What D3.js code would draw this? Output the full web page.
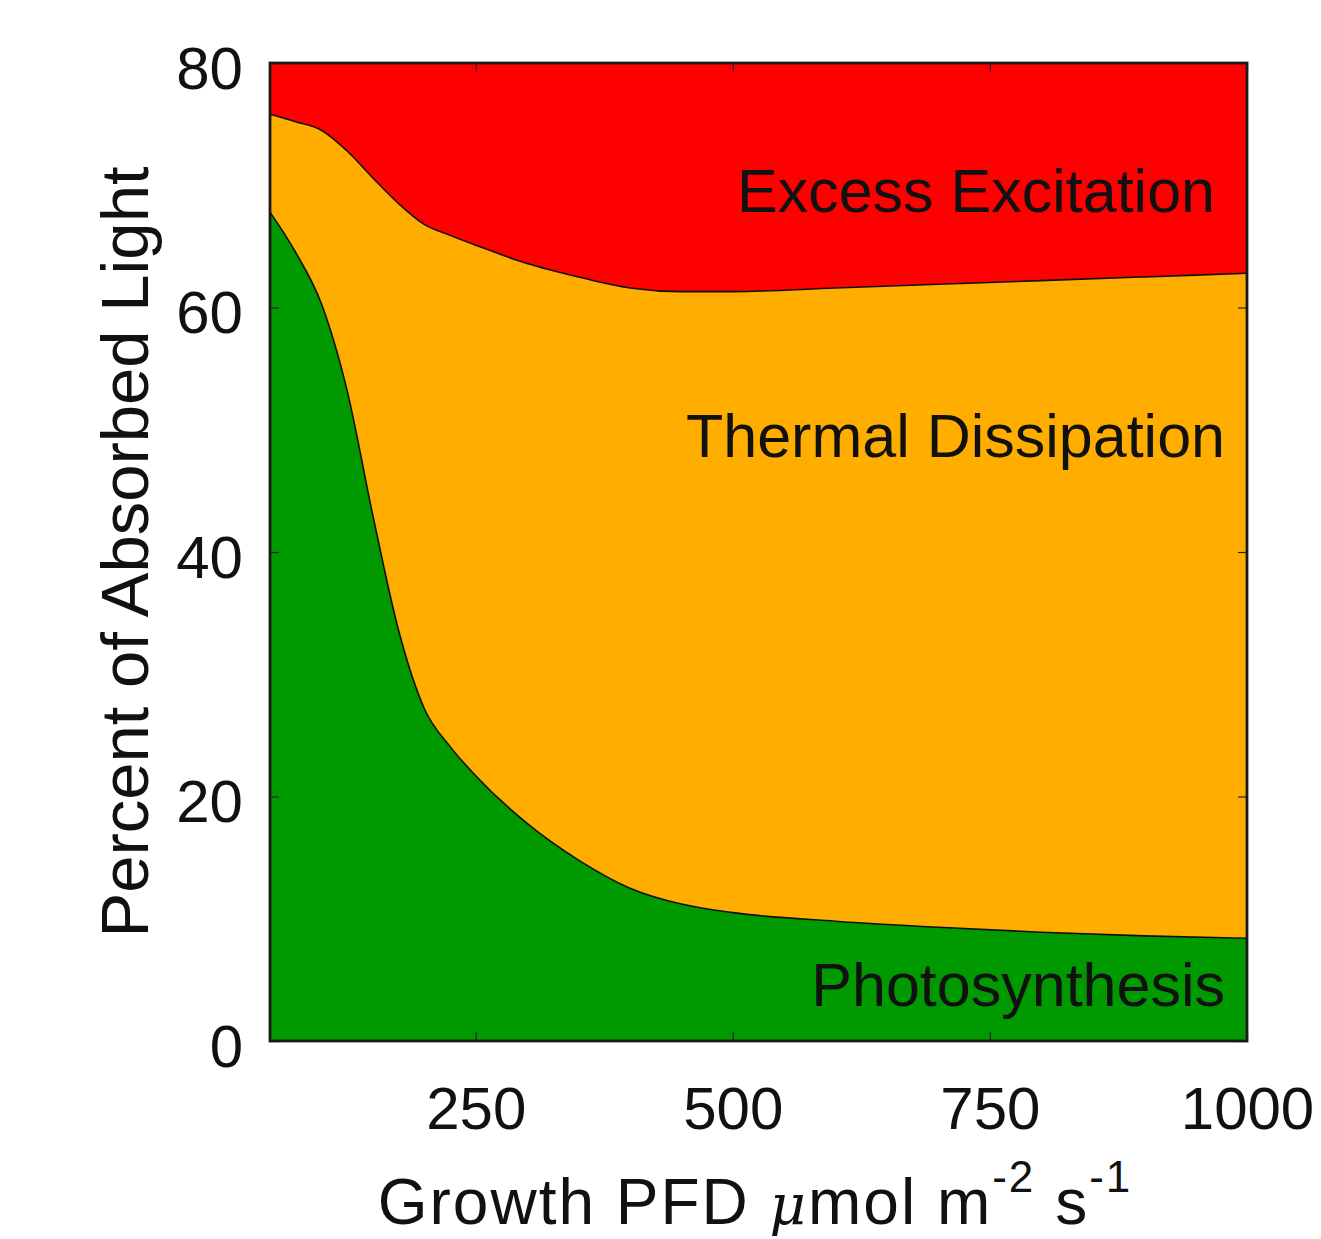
<!DOCTYPE html>
<html lang="en">
<head>
  <meta charset="UTF-8">
  <title>Absorbed light partitioning</title>
  <style>
    body { margin: 0; background: #fff; }
    text { font-family: "Liberation Sans", Arial, sans-serif; fill: #111; }
  </style>
</head>
<body>
  <div id="chart"></div>

  <script src="https://d3js.org/d3.v7.min.js"></script>

  <script>
    // Growth PFD (umol m-2 s-1)
    var pfd = [50, 75, 100, 125, 150, 175, 200, 225, 250, 300, 350, 400, 450, 500, 600, 700, 800, 900, 1000];
    // share of absorbed light in each fate (percent), stacked bottom to top
    var photosynthesis = [67.8, 64.5, 60.3, 53.2, 43.0, 33.6, 27.2, 24.1, 21.7, 17.8, 14.8, 12.5, 11.2, 10.5, 9.8, 9.3, 8.9, 8.6, 8.4];
    var thermal = [8.0, 10.7, 14.2, 19.6, 27.6, 34.9, 39.6, 41.8, 43.4, 45.8, 47.7, 49.1, 50.1, 50.8, 51.8, 52.6, 53.3, 53.9, 54.4];
    var excess = [4.2, 4.8, 5.5, 7.2, 9.4, 11.5, 13.2, 14.1, 14.9, 16.4, 17.5, 18.4, 18.7, 18.7, 18.4, 18.1, 17.8, 17.5, 17.2];

    var keys = ["photosynthesis", "thermal", "excess"];
    var labels = ["Photosynthesis", "Thermal Dissipation", "Excess Excitation"];
    var colors = ["#009a00", "#ffae00", "#ff0000"];

    var xTicks = [250, 500, 750, 1000];
    var yTicks = [0, 20, 40, 60, 80];

    // set the dimensions and margins of the graph
    var margin = {top: 63, right: 74, bottom: 198, left: 270},
      width = 1321 - margin.left - margin.right,
      height = 1239 - margin.top - margin.bottom;

    var svg = d3.select("#chart")
      .append("svg")
      .attr("width", 1321)
      .attr("height", 1239);

    var g = svg.append("g")
      .attr("transform", "translate(" + margin.left + "," + margin.top + ")");

    var x = d3.scaleLinear().domain([50, 1000]).range([0, width]);
    var y = d3.scaleLinear().domain([0, 80]).range([height, 0]);

    // rows for the stack
    var rows = pfd.map(function(p, i) {
      return {pfd: p, photosynthesis: photosynthesis[i], thermal: thermal[i], excess: excess[i]};
    });
    var series = d3.stack().keys(keys)(rows);

    var area = d3.area()
      .curve(d3.curveMonotoneX)
      .x(function(d) { return x(d.data.pfd); })
      .y0(function(d) { return y(d[0]); })
      .y1(function(d) { return y(d[1]); });

    var line = d3.line()
      .curve(d3.curveMonotoneX)
      .x(function(d) { return x(d.data.pfd); })
      .y(function(d) { return y(d[1]); });

    g.selectAll(".layer")
      .data(series)
      .enter()
      .append("path")
      .attr("class", "layer")
      .attr("d", area)
      .style("fill", function(d, i) { return colors[i]; });

    // boundaries between layers
    g.selectAll(".edge")
      .data(series.slice(0, 2))
      .enter()
      .append("path")
      .attr("class", "edge")
      .attr("d", line)
      .style("fill", "none")
      .style("stroke", "#111")
      .style("stroke-width", 1.6);

    // axes: inward ticks on all sides, labels left and bottom
    var fs = 60;
    g.append("g")
      .attr("transform", "translate(0," + height + ")")
      .call(d3.axisBottom(x).tickValues(xTicks).tickSize(-9).tickFormat(d3.format("d")))
      .call(function(a) {
        a.select(".domain").remove();
        a.selectAll("text").style("font-size", fs + "px").attr("dy", "0.71em").attr("y", 45);
      });
    g.append("g")
      .call(d3.axisTop(x).tickValues(xTicks).tickSize(-9).tickFormat(""))
      .call(function(a) { a.select(".domain").remove(); });
    g.append("g")
      .call(d3.axisLeft(y).tickValues(yTicks).tickSize(-9).tickPadding(0))
      .call(function(a) {
        a.select(".domain").remove();
        a.selectAll("text").style("font-size", fs + "px").attr("x", -27).attr("dy", "0.42em");
      });
    g.append("g")
      .attr("transform", "translate(" + width + ",0)")
      .call(d3.axisRight(y).tickValues(yTicks).tickSize(-9).tickFormat(""))
      .call(function(a) { a.select(".domain").remove(); });
    g.selectAll(".tick line").style("stroke", "#222").style("stroke-width", 1.2);

    // frame
    g.append("rect")
      .attr("width", width)
      .attr("height", height)
      .style("fill", "none")
      .style("stroke", "#1a1a1a")
      .style("stroke-width", 2.8);

    // region labels (right aligned)
    var labelPos = [
      {x: 1000, y: 2.9, dx: -22},
      {x: 1000, y: 47.8, dx: -22},
      {x: 1000, y: 67.8, dx: -32}
    ];
    g.selectAll(".region")
      .data(labels)
      .enter()
      .append("text")
      .attr("class", "region")
      .attr("x", function(d, i) { return x(labelPos[i].x) + labelPos[i].dx; })
      .attr("y", function(d, i) { return y(labelPos[i].y); })
      .attr("text-anchor", "end")
      .style("font-size", "61px")
      .text(function(d) { return d; });

    // X axis title
    var xt = svg.append("text")
      .attr("x", 755)
      .attr("y", 1224)
      .attr("text-anchor", "middle")
      .style("font-size", "64px")
      .style("letter-spacing", "2px");
    xt.append("tspan").text("Growth PFD ");
    xt.append("tspan").style("font-family", "'DejaVu Serif', serif").style("font-style", "italic").style("font-size", "56px").text("\u03bc");
    xt.append("tspan").text("mol m");
    xt.append("tspan").attr("dy", -32).style("font-size", "44px").text("-2");
    xt.append("tspan").attr("dy", 32).text(" s");
    xt.append("tspan").attr("dy", -32).style("font-size", "44px").text("-1");

    // Y axis title
    svg.append("text")
      .attr("transform", "translate(148," + 552 + ") rotate(-90)")
      .attr("text-anchor", "middle")
      .style("font-size", "67px")
      .text("Percent of Absorbed Light");
  </script>
</body>
</html>
